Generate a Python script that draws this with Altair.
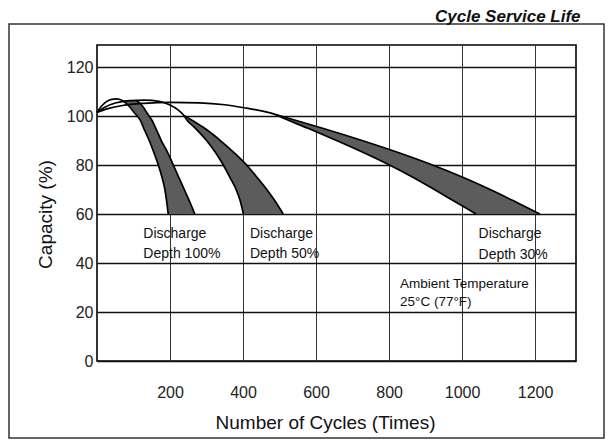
import altair as alt
import pandas as pd

# ---------------- data ----------------
x_domain = [0, 1312]
y_domain = [0, 129]
x_ticks = [200, 400, 600, 800, 1000, 1200]
y_ticks = [0, 20, 40, 60, 80, 100, 120]

# rising arcs from the start point to the top of each band
arc100_x = [0, 12, 25, 40, 55, 68]
arc100_y = [101.5, 104, 105.8, 106.8, 107, 106.4]
arc50_x = [0, 20, 50, 90, 130, 170, 200, 222, 238]
arc50_y = [101.5, 103.5, 105.3, 106.3, 106.5, 106, 104.5, 102.5, 100.2]
arc30_x = [0, 30, 70, 130, 200, 280, 350, 410, 460, 490]
arc30_y = [101.5, 103, 104.3, 105.2, 105.6, 105.4, 104.6, 103.2, 101.8, 100.6]

# shaded bands: capacity level, left edge cycles, right edge cycles
band100_y = [106.4, 104, 101, 98.4, 94, 90, 85, 80, 75, 70, 65, 60]
band100_left = [68, 88, 104, 118, 131, 143, 156, 168, 178, 186, 191, 195]
band100_right = [108, 125, 138, 150, 164, 176, 194, 209, 224, 239, 254, 268]
band50_y = [100.2, 98.4, 95.5, 90, 85, 80, 75, 70, 65, 60]
band50_left = [238, 246, 266, 300, 325, 346, 364, 381, 393, 401]
band50_right = [238, 259, 290, 338, 376, 410, 438, 465, 489, 510]
band30_y = [100.6, 100, 95, 90, 85, 80, 75, 70, 65, 60]
band30_left = [490, 498, 578, 656, 731, 801, 865, 924, 981, 1038]
band30_right = [490, 504, 618, 726, 827, 919, 1002, 1077, 1146, 1213]

# annotations
note_text = ["Discharge", "Depth 100%", "Discharge", "Depth 50%",
             "Discharge", "Depth 30%", "Ambient Temperature", "25°C  (77°F)"]
note_x = [127, 127, 419, 419, 1045, 1045, 830, 830]
note_y = [50.3, 42.1, 50.3, 42.1, 50.1, 41.7, 30.0, 22.4]
note_size = [14, 14, 14, 14, 14, 14, 13.5, 13.5]

title_text = "Cycle Service Life"

# ---------------- tables ----------------
band_rows = []
for name, ys, ls, rs in [("100", band100_y, band100_left, band100_right),
                         ("50", band50_y, band50_left, band50_right),
                         ("30", band30_y, band30_left, band30_right)]:
    for y, l, r in zip(ys, ls, rs):
        band_rows.append({"depth": name, "y": y, "x": l, "x2": r})
bands = pd.DataFrame(band_rows)

paths = {
    "100L": list(zip(arc100_x, arc100_y)) + list(zip(band100_left, band100_y))[1:],
    "100R": list(zip(band100_right, band100_y)),
    "50L": list(zip(arc50_x, arc50_y)) + list(zip(band50_left, band50_y))[1:],
    "50R": list(zip(band50_right, band50_y)),
    "30U": list(zip(arc30_x, arc30_y)) + list(zip(band30_right, band30_y))[1:],
    "30L": list(zip(band30_left, band30_y)),
}
line_rows = []
for pid, pts in paths.items():
    for i, (x, y) in enumerate(pts):
        line_rows.append({"pid": pid, "i": i, "x": x, "y": y})
lines = pd.DataFrame(line_rows)

notes = pd.DataFrame({"text": note_text, "x": note_x, "y": note_y, "size": note_size})

FONT = "Liberation Sans, Arial, sans-serif"

xs = alt.Scale(domain=x_domain, nice=False, zero=False)
ys = alt.Scale(domain=y_domain, nice=False, zero=False)

x_axis = alt.Axis(values=x_ticks, format="d", title="Number of Cycles (Times)", grid=True,
                  ticks=False, domain=False, labelPadding=23, labelFontSize=16,
                  labelFont=FONT, labelColor="#222", titleFontSize=19, titleFont=FONT,
                  titleFontWeight="normal", titleColor="#111", titleX=228, titleY=67.5,
                  titleBaseline="alphabetic", gridColor="#333", gridWidth=1)
y_axis = alt.Axis(values=y_ticks, format="d", title="Capacity (%)", grid=True, ticks=False,
                  domain=False, labelPadding=4, labelFontSize=16, labelFont=FONT,
                  labelColor="#222", titleFontSize=19, titleFont=FONT,
                  titleFontWeight="normal", titleColor="#111", titleX=-46, titleY=169,
                  titleBaseline="alphabetic", titleAngle=270, gridColor="#111", gridWidth=1.3)

area = alt.Chart(bands).mark_area(orient="horizontal", color="#5c5c5c", opacity=1,
                                  interpolate="monotone").encode(
    y=alt.Y("y:Q", scale=ys, axis=y_axis),
    x=alt.X("x:Q", scale=xs, axis=x_axis),
    x2="x2:Q",
    detail="depth:N",
)

curves = alt.Chart(lines).mark_line(color="#000", strokeWidth=1.7,
                                    interpolate="monotone").encode(
    x=alt.X("x:Q", scale=xs),
    y=alt.Y("y:Q", scale=ys),
    detail="pid:N",
    order="i:Q",
)

texts = alt.Chart(notes).mark_text(align="left", baseline="alphabetic", font=FONT,
                                   color="#111").encode(
    x=alt.X("x:Q", scale=xs),
    y=alt.Y("y:Q", scale=ys),
    text="text:N",
    size=alt.Size("size:Q", scale=None, legend=None),
)

frame = alt.Chart(pd.DataFrame({"k": [0]})).mark_rect(
    filled=False, stroke="#333", strokeWidth=1.5).encode(
    x=alt.value(-88), x2=alt.value(507), y=alt.value(-21), y2=alt.value(393))

title = alt.Chart(pd.DataFrame({"t": [title_text]})).mark_text(
    align="left", baseline="alphabetic", font=FONT, fontSize=17, fontStyle="italic",
    fontWeight="bold", color="#111").encode(
    x=alt.value(338), y=alt.value(-23), text="t:N")

chart = alt.layer(area, curves, texts, frame, title).properties(
    width=479, height=316,
    autosize=alt.AutoSizeParams(type="none"),
    padding={"left": 89, "top": 37, "right": 29, "bottom": 78},
).configure_view(stroke="#000", strokeWidth=1.6)

chart.save("out.html", embed_options={"renderer": "svg", "actions": False})
